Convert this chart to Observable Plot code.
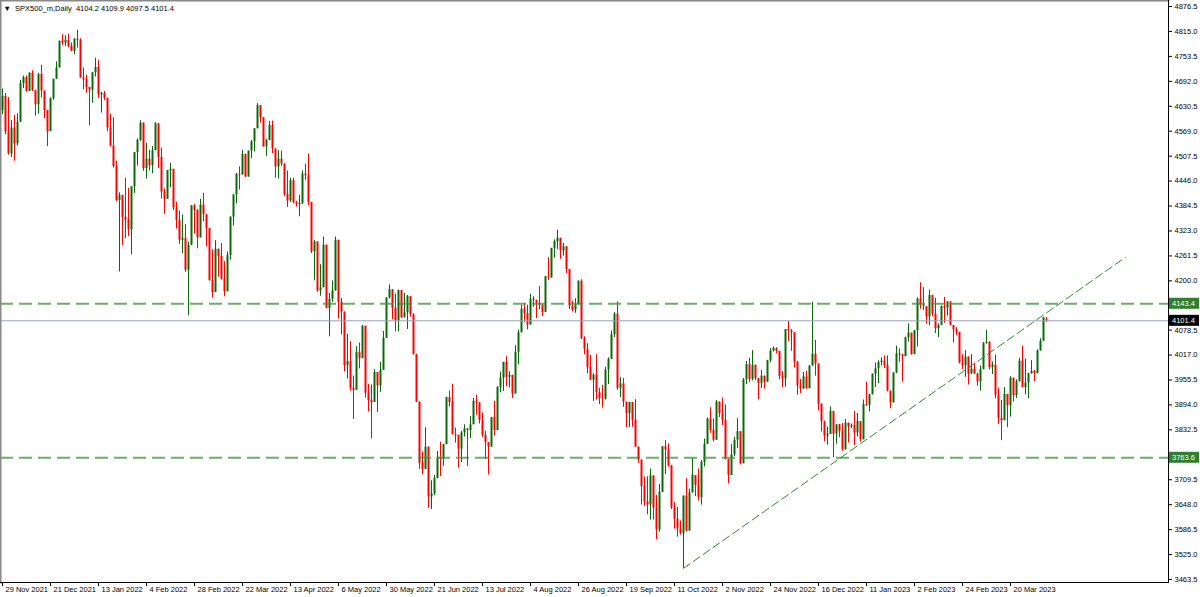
<!DOCTYPE html>
<html><head><meta charset="utf-8">
<script src="https://cdn.jsdelivr.net/npm/d3@7"></script>
<script src="https://cdn.jsdelivr.net/npm/@observablehq/plot@0.6"></script>
<style>
html,body{margin:0;padding:0;background:#fff;}
#chart{width:1200px;height:597px;overflow:hidden;}
</style></head><body><div id="chart"></div>
<script>
const symbol = "SPX500_m";
const timeframe = "Daily";

// Daily candles, oldest first (29 Nov 2021 ... 3 Apr 2023)
const open = [
4620,4655,4567,4513,4577,4538,4591,4686,4701,4667,
4712,4669,4634,4709,4668,4620,4568,4649,4697,4725,
4791,4786,4793,4778,4766,4796,4793,4700,4696,4677,
4670,4713,4726,4659,4662,4650,4577,4532,4482,4398,
4410,4356,4350,4326,4432,4516,4546,4589,4477,4500,
4484,4521,4587,4504,4419,4401,4472,4475,4380,4349,
4300,4305,4226,4288,4385,4374,4306,4387,4363,4329,
4201,4171,4278,4260,4204,4173,4262,4357,4412,4463,
4461,4512,4456,4520,4543,4575,4632,4602,4530,4546,
4583,4525,4481,4500,4488,4413,4397,4447,4392,4388,
4391,4463,4459,4393,4272,4296,4175,4183,4288,4132,
4155,4175,4300,4147,4123,3991,4001,3935,3930,4024,
4008,4088,3923,3905,3900,3974,3941,3979,4058,4158,
4178,4132,4101,4176,4109,4121,4161,4116,4018,3901,
3750,3735,3790,3667,3675,3712,3765,3760,3796,3912,
3900,3821,3819,3785,3825,3835,3831,3845,3903,3899,
3855,3819,3801,3790,3863,3831,3937,3960,3999,3962,
3967,3921,4024,4072,4130,4119,4091,4155,4152,4145,
4140,4122,4210,4207,4280,4297,4305,4274,4284,4228,
4138,4128,4141,4199,4058,4031,3986,3955,3967,3924,
3910,3908,3980,4006,4067,4118,3935,3946,3901,3873,
3900,3856,3790,3758,3693,3655,3647,3719,3640,3586,
3678,3791,3783,3744,3640,3612,3588,3577,3669,3583,
3677,3720,3695,3666,3752,3797,3859,3831,3807,3901,
3872,3856,3760,3720,3771,3807,3828,3749,3956,3993,
3957,3992,3959,3947,3965,3950,4003,4027,4033,4026,
3964,3958,4080,4076,4072,3999,3941,3933,3963,3934,
3990,4019,3995,3896,3852,3817,3821,3878,3822,3845,
3829,3783,3849,3840,3843,3825,3853,3808,3895,3893,
3919,3970,3983,3999,4002,3991,3928,3899,3973,4020,
4017,4013,4060,4071,4018,4077,4155,4140,4136,4111,
4164,4118,4082,4090,4137,4133,4148,4090,4079,4073,
3997,3991,4012,3970,3982,3970,3951,3981,4045,4048,
3986,3992,3918,3861,3855,3920,3892,3960,3917,3951,
4002,3937,3948,3971,3977,3971,4027,4051,4104.2];

const high = [
4673,4662,4652,4595,4608,4612,4694,4705,4705,4713,
4718,4669,4712,4731,4668,4620,4651,4697,4740,4791,
4807,4804,4808,4787,4797,4818,4797,4725,4707,4677,
4714,4749,4744,4665,4667,4650,4611,4602,4495,4417,
4411,4453,4428,4432,4517,4550,4595,4589,4539,4522,
4531,4590,4588,4527,4426,4472,4490,4475,4394,4372,
4362,4339,4295,4385,4388,4375,4401,4416,4363,4329,
4276,4299,4278,4292,4247,4271,4358,4412,4465,4481,
4522,4512,4520,4546,4575,4637,4632,4603,4549,4593,
4594,4525,4521,4520,4488,4471,4453,4453,4396,4411,
4471,4488,4513,4393,4300,4296,4240,4308,4288,4169,
4200,4308,4300,4157,4123,4068,4050,3965,4038,4047,
4090,4088,3945,3943,3981,3974,3999,4075,4158,4190,
4178,4167,4177,4176,4169,4164,4161,4119,4018,3901,
3778,3838,3790,3707,3720,3779,3802,3796,3913,3928,
3945,3837,3819,3829,3845,3835,3865,3910,3918,3899,
3874,3829,3801,3863,3903,3939,3975,3999,4013,3976,
3967,4040,4079,4140,4144,4140,4167,4161,4152,4186,
4140,4211,4257,4280,4301,4325,4305,4292,4284,4228,
4150,4156,4200,4203,4062,4045,4016,3971,4018,3935,
3942,3987,4010,4076,4122,4148,3961,3959,3901,3900,
3900,3907,3790,3758,3716,3717,3736,3719,3671,3698,
3791,3806,3798,3744,3653,3641,3608,3670,3712,3686,
3762,3720,3736,3757,3810,3862,3887,3859,3905,3901,
3911,3894,3760,3796,3814,3860,3828,3959,4001,4009,
4028,3992,3959,3979,3965,4004,4033,4037,4035,4026,
3976,4080,4100,4080,4072,4001,3957,3974,3977,3990,
4147,4053,3995,3896,3854,3839,3889,3878,3845,3846,
3848,3858,3849,3847,3878,3873,3853,3906,3950,3920,
3970,3997,4003,4010,4015,4015,3928,3973,4039,4032,
4019,4061,4094,4071,4077,4158,4195,4183,4136,4177,
4164,4157,4094,4138,4159,4148,4148,4090,4085,4073,
4018,4028,4012,4018,3997,3972,3990,4048,4078,4050,
4000,4017,3934,3905,3937,3920,3964,3960,3956,4009,
4039,4007,3972,4003,3979,4030,4057,4110,4109.9];

const low = [
4610,4560,4510,4504,4495,4532,4591,4674,4665,4667,
4667,4606,4611,4651,4600,4531,4568,4645,4697,4725,
4780,4778,4775,4765,4758,4774,4700,4671,4663,4582,
4638,4703,4650,4614,4645,4568,4530,4478,4395,4222,
4287,4304,4309,4264,4415,4483,4544,4470,4451,4471,
4464,4521,4477,4402,4364,4401,4430,4373,4328,4290,
4267,4221,4114,4287,4315,4279,4306,4345,4284,4199,
4157,4171,4209,4202,4161,4173,4251,4335,4390,4424,
4461,4455,4456,4501,4518,4575,4589,4530,4507,4546,
4514,4453,4451,4482,4408,4381,4393,4390,4382,4358,
4388,4448,4385,4267,4200,4172,4162,4183,4131,4062,
4147,4175,4106,4067,3975,3958,3928,3858,3930,3983,
4008,3911,3877,3810,3900,3875,3925,3979,4058,4155,
4104,4074,4074,4107,4109,4080,4110,4017,3900,3735,
3722,3735,3639,3636,3670,3712,3717,3743,3796,3889,
3820,3800,3738,3752,3815,3742,3811,3845,3869,3847,
3814,3759,3721,3790,3818,3831,3924,3927,3939,3936,
3910,3921,3993,4072,4097,4079,4091,4135,4107,4129,
4112,4122,4201,4207,4256,4277,4253,4261,4218,4129,
4123,4120,4141,4055,4018,3971,3954,3903,3906,3895,
3886,3906,3944,4006,4060,3930,3912,3888,3838,3838,
3839,3789,3750,3647,3644,3623,3610,3610,3562,3580,
3678,3722,3740,3636,3588,3568,3573,3491,3581,3583,
3677,3668,3657,3647,3741,3797,3824,3803,3807,3863,
3843,3758,3699,3720,3767,3787,3746,3749,3944,3949,
3953,3954,3907,3935,3933,3950,3998,4025,4020,3956,
3937,3938,4050,4026,3985,3918,3922,3933,3933,3934,
3990,3965,3879,3827,3803,3795,3821,3764,3797,3813,
3780,3783,3800,3836,3794,3815,3802,3808,3890,3877,
3919,3937,3947,3990,3984,3926,3885,3899,3971,3999,
3950,4013,4049,4017,4018,4037,4130,4127,4093,4089,
4111,4070,4060,4090,4095,4113,4089,4047,4065,3995,
3981,3962,3943,3970,3969,3940,3928,3981,4044,3980,
3969,3909,3846,3806,3855,3838,3864,3901,3910,3951,
3936,3919,3909,3970,3951,3971,4027,4051,4097.5];

const close = [
4655,4567,4513,4577,4538,4591,4686,4701,4667,4712,
4669,4634,4709,4668,4620,4568,4649,4697,4725,4791,
4786,4793,4778,4766,4796,4793,4700,4696,4677,4670,
4713,4726,4659,4662,4650,4577,4532,4482,4398,4410,
4356,4350,4326,4432,4516,4546,4589,4477,4500,4484,
4521,4587,4504,4419,4401,4472,4475,4380,4349,4300,
4305,4226,4288,4385,4374,4306,4387,4363,4329,4201,
4171,4278,4260,4204,4173,4262,4357,4412,4463,4461,
4512,4456,4520,4543,4575,4632,4602,4530,4546,4583,
4525,4481,4500,4488,4413,4397,4447,4392,4388,4391,
4463,4459,4393,4272,4296,4175,4183,4288,4132,4155,
4175,4300,4147,4123,3991,4001,3935,3930,4024,4008,
4088,3923,3905,3900,3974,3941,3979,4058,4158,4178,
4132,4101,4176,4109,4121,4161,4116,4018,3901,3750,
3735,3790,3667,3675,3712,3765,3760,3796,3912,3900,
3821,3819,3785,3825,3835,3831,3845,3903,3899,3855,
3819,3801,3790,3863,3831,3937,3960,3999,3962,3967,
3921,4024,4072,4130,4119,4091,4155,4152,4145,4140,
4122,4210,4207,4280,4297,4305,4274,4284,4228,4138,
4128,4141,4199,4058,4031,3986,3955,3967,3924,3910,
3908,3980,4006,4067,4118,3935,3946,3901,3873,3900,
3856,3790,3758,3693,3655,3647,3719,3640,3586,3678,
3791,3783,3744,3640,3612,3588,3577,3669,3583,3677,
3720,3695,3666,3752,3797,3859,3831,3807,3901,3872,
3856,3760,3720,3771,3807,3828,3749,3956,3993,3957,
3992,3959,3947,3965,3950,4003,4027,4033,4026,3964,
3958,4080,4076,4072,3999,3941,3933,3963,3934,3990,
4019,3995,3896,3852,3817,3821,3878,3822,3845,3829,
3783,3849,3840,3843,3825,3853,3808,3895,3893,3919,
3970,3983,3999,4002,3991,3928,3899,3973,4020,4017,
4013,4060,4071,4018,4077,4155,4140,4136,4111,4164,
4118,4082,4090,4137,4133,4148,4090,4079,4073,3997,
3991,4012,3970,3982,3970,3951,3981,4045,4048,3986,
3992,3918,3861,3855,3920,3892,3960,3917,3951,4002,
3937,3948,3971,3977,3971,4027,4051,4109,4101.4];

// time-axis labels (one every 16 bars)
const dateLabels = ["29 Nov 2021","21 Dec 2021","13 Jan 2022","4 Feb 2022","28 Feb 2022","22 Mar 2022",
  "13 Apr 2022","6 May 2022","30 May 2022","21 Jun 2022","13 Jul 2022","4 Aug 2022","26 Aug 2022",
  "19 Sep 2022","11 Oct 2022","2 Nov 2022","24 Nov 2022","16 Dec 2022","11 Jan 2023","2 Feb 2023",
  "24 Feb 2023","20 Mar 2023"];
const dateLabelBars = [0,16,32,48,64,80,96,112,128,144,160,176,192,208,224,240,256,272,288,304,320,336];

// price-axis labels (the two hidden behind the level tags are left out)
const priceTicks = [3463.5,3525.0,3586.5,3648.0,3709.5,3832.5,3894.0,3955.5,4017.0,4078.5,
  4200.0,4261.5,4323.0,4384.5,4446.0,4507.5,4569.0,4630.5,4692.0,4753.5,4815.0,4876.5];

// drawn objects
const levelLines = [4143.4, 3763.6];
const trendBars = [227, 374.3];
const trendPrices = [3491, 4258];

const FONT = "'Liberation Sans', Arial, sans-serif";
const W = 1200, H = 597, MR = 32, MB = 15;
const last = close.length - 1;

const bars = close.map((c, i) => ({
  i, o: open[i], h: high[i], l: low[i], c,
  up: c >= open[i]
}));
const trend = trendBars.map((b, k) => ({b, p: trendPrices[k]}));
const labelRows = dateLabelBars.map((b, k) => ({b, t: dateLabels[k]}));

const bullBody = "#0a6a0a", bearBody = "#ff0000";

const title = `\u25BC\u00a0 ${symbol},${timeframe}\u00a0 ${open[last].toFixed(1)} ${high[last].toFixed(1)} ${low[last].toFixed(1)} ${close[last].toFixed(1)}`;

const chart = Plot.plot({
  width: W, height: H,
  marginLeft: 0, marginRight: MR, marginTop: 0, marginBottom: MB,
  style: {fontFamily: FONT, fontSize: "7.5px", background: "#fff", color: "#000", overflow: "visible"},
  x: {type: "linear", domain: [-2/3, 388 + 2/3], axis: null},
  y: {type: "linear", domain: [3456.1, 4891.3], axis: null},
  marks: [
    // wicks
    Plot.ruleX(bars, {x: "i", y1: d => Math.min(d.l, d.o, d.c), y2: d => Math.max(d.h, d.o, d.c),
      stroke: d => d.up ? bullBody : bearBody, strokeWidth: 1}),
    // bodies
    Plot.ruleX(bars, {x: "i", y1: "o", y2: "c",
      stroke: d => d.up ? bullBody : bearBody, strokeWidth: 2}),
    // current price line
    Plot.ruleY([close[last]], {stroke: "#97a1b6", strokeWidth: 1}),
    // horizontal levels
    Plot.ruleY(levelLines, {stroke: "#3f8f3f", strokeOpacity: 0.75, strokeWidth: 2, strokeDasharray: "13,6"}),
    // trend line
    Plot.line(trend, {x: "b", y: "p", stroke: "#2f8a2f", strokeWidth: 1, strokeDasharray: "8,4"}),
    // frame
    Plot.frame({anchor: "left", stroke: "#8a8a8a", strokeWidth: 2}),
    Plot.frame({anchor: "top", stroke: "#8a8a8a", strokeWidth: 2}),
    Plot.frame({anchor: "right", stroke: "#000", strokeWidth: 1}),
    Plot.frame({anchor: "bottom", stroke: "#000", strokeWidth: 1}),
    // axes
    Plot.axisY({anchor: "right", ticks: priceTicks, tickFormat: d => d.toFixed(1), tickSize: 3, tickPadding: 3,
      fontSize: 7.5, fill: "#000"}),
    Plot.axisX({anchor: "bottom", ticks: dateLabelBars, tickSize: 4, tickFormat: () => ""}),
    Plot.text(labelRows, {x: "b", text: "t", frameAnchor: "bottom", textAnchor: "start", lineAnchor: "middle",
      dx: 3, dy: 7, fontSize: 7.5, fill: "#000"}),
    // title
    Plot.text([title], {frameAnchor: "top-left", text: d => d, textAnchor: "start", lineAnchor: "middle",
      dx: 3, dy: 8, fontSize: 7.5, fill: "#000"})
  ]
});

// price tags at the right axis, positioned through the plot's y scale
const yScale = chart.scale("y");
const tags = [
  {v: levelLines[0], fill: "#2f7f2f"},
  {v: close[last], fill: "#000000"},
  {v: levelLines[1], fill: "#2f7f2f"}
];
const g = d3.select(chart).append("g")
  .attr("font-family", FONT).attr("font-size", 7.5).attr("text-anchor", "start");
tags.forEach(t => {
  const yy = yScale.apply(t.v);
  g.append("rect").attr("x", W - MR + 1).attr("y", yy - 5.5).attr("width", 30).attr("height", 11).attr("fill", t.fill);
  g.append("text").attr("x", W - MR + 4).attr("y", yy).attr("dy", "0.35em")
    .attr("text-anchor", "start").attr("fill", "#fff").text(t.v.toFixed(1));
});

document.getElementById("chart").appendChild(chart);
</script>
</body></html>
